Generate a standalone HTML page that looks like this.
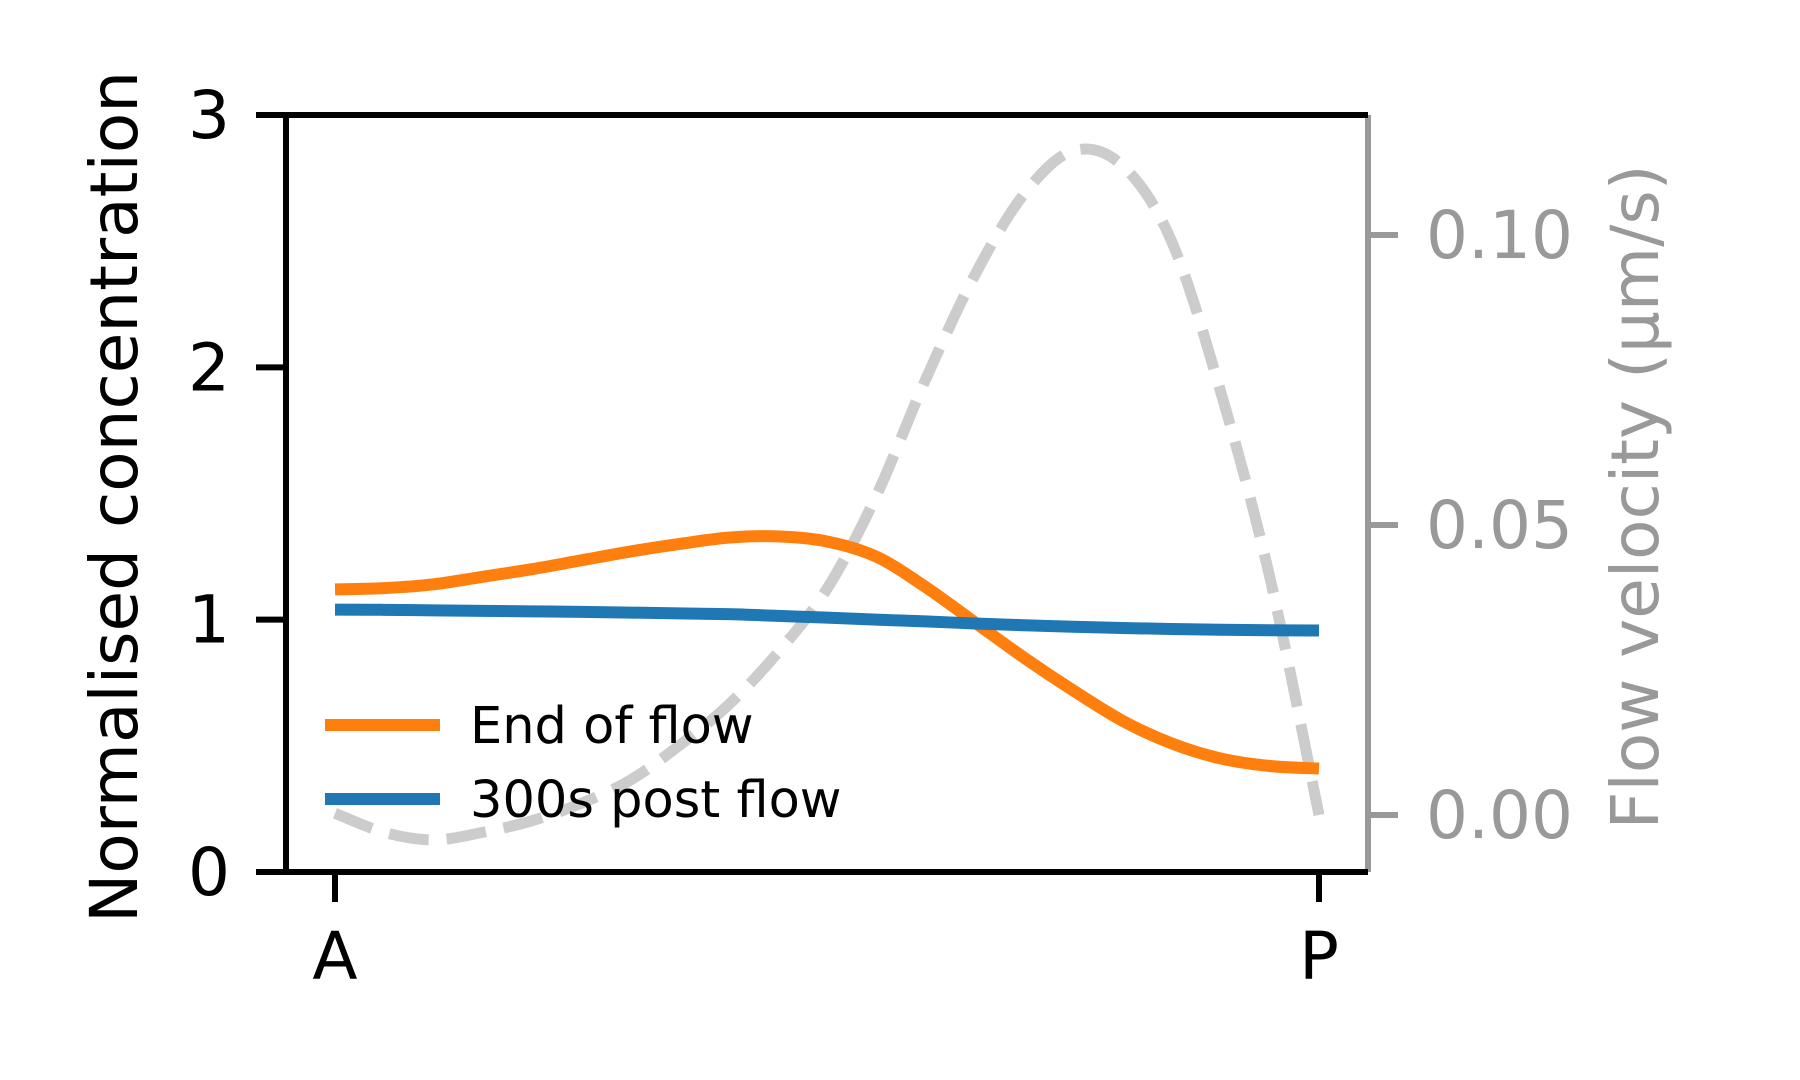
<!DOCTYPE html>
<html><head><meta charset="utf-8"><style>
html,body{margin:0;padding:0;background:#fff;}
svg{display:block;font-family:"DejaVu Sans","Liberation Sans",sans-serif;}
</style></head><body>
<svg id="chart" width="1800" height="1080" viewBox="0 0 1800 1080"></svg>
<script>
const xs = [0,0.05,0.1,0.15,0.2,0.25,0.3,0.35,0.4,0.45,0.5,0.55,0.6,0.65,0.7,0.75,0.8,0.85,0.9,0.95,1];
const endOfFlow = [1.12,1.125,1.14,1.17,1.2,1.235,1.27,1.3,1.325,1.33,1.31,1.25,1.13,0.99,0.85,0.72,0.6,0.51,0.45,0.42,0.41];
const postFlow = [1.04,1.039,1.037,1.035,1.033,1.031,1.028,1.025,1.022,1.015,1.008,1.0,0.993,0.985,0.978,0.972,0.967,0.963,0.96,0.958,0.957];
const velocity = [0.0003,-0.003,-0.0043,-0.003,-0.001,0.002,0.006,0.012,0.019,0.028,0.039,0.055,0.075,0.093,0.107,0.1145,0.112,0.099,0.073,0.041,0.0];
const leftTicks = [0,1,2,3];
const rightTicks = [0,0.05,0.1];
const rightTickLabels = ["0.00","0.05","0.10"];
const xTicks = [0,1];
const xTickLabels = ["A","P"];

const NS="http://www.w3.org/2000/svg";
const svg=document.getElementById('chart');
const L=286,R=1368,T=115,B=872;
const xA=335,xP=1319;
const sx=v=>xA+(xP-xA)*v;
const sy=v=>B+(T-B)*v/3;
const sv=v=>815-(815-235)*v/0.1;
function el(tag,attrs,parent){const e=document.createElementNS(NS,tag);for(const k in attrs)e.setAttribute(k,attrs[k]);(parent||svg).appendChild(e);return e;}
function smooth(pts){let d=`M${pts[0][0]},${pts[0][1]}`;for(let i=0;i<pts.length-1;i++){const p0=pts[Math.max(0,i-1)],p1=pts[i],p2=pts[i+1],p3=pts[Math.min(pts.length-1,i+2)];const c1=[p1[0]+(p2[0]-p0[0])/6,p1[1]+(p2[1]-p0[1])/6];const c2=[p2[0]-(p3[0]-p1[0])/6,p2[1]-(p3[1]-p1[1])/6];d+=` C${c1[0]},${c1[1]} ${c2[0]},${c2[1]} ${p2[0]},${p2[1]}`;}return d;}

let p=el('path',{d:smooth(xs.map((x,i)=>[sx(x),sv(velocity[i])])),fill:'none',stroke:'#cccccc','stroke-width':11,'stroke-dasharray':'40 18'});

p=el('path',{d:smooth(xs.map((x,i)=>[sx(x),sy(endOfFlow[i])])),fill:'none',stroke:'#ff7f0e','stroke-width':12});

p=el('path',{d:smooth(xs.map((x,i)=>[sx(x),sy(postFlow[i])])),fill:'none',stroke:'#1f77b4','stroke-width':12});


let a=el('line',{x1:R,y1:T,x2:R,y2:B,stroke:'#999','stroke-width':6});
a=el('path',{d:`M${L},${T} H${R} M${L},${T} V${B} H${R}`,fill:'none',stroke:'#000','stroke-width':6});

leftTicks.forEach(v=>{const y=sy(v);
 let t=el('line',{x1:L-30,y1:y,x2:L,y2:y,stroke:'#000','stroke-width':6});
 let tx=el('text',{x:L-56,y:y+23,'text-anchor':'end','font-size':66,fill:'#000'});tx.textContent=v;});
rightTicks.forEach((v,i)=>{const y=sv(v);
 let t=el('line',{x1:R,y1:y,x2:R+30,y2:y,stroke:'#999','stroke-width':6});
 let tx=el('text',{x:R+58,y:y+23,'font-size':66,fill:'#999'});tx.textContent=rightTickLabels[i];});
xTicks.forEach((v,i)=>{const x=sx(v);
 let t=el('line',{x1:x,y1:B,x2:x,y2:B+30,stroke:'#000','stroke-width':6});
 let tx=el('text',{x:x,y:979,'text-anchor':'middle','font-size':66,fill:'#000'});tx.textContent=xTickLabels[i];});

let yl=el('text',{x:0,y:0,transform:'translate(137,497) rotate(-90)','text-anchor':'middle','font-size':66,fill:'#000'});yl.textContent='Normalised concentration';
let rl=el('text',{x:0,y:0,transform:'translate(1658,497) rotate(-90)','text-anchor':'middle','font-size':66,fill:'#999'});rl.textContent='Flow velocity (μm/s)';

const lg=el('g',{});
[['End of flow','#ff7f0e',725],['300s post flow','#1f77b4',799]].forEach(([n,c,y])=>{
 let l=el('line',{x1:325,y1:y,x2:440,y2:y,stroke:c,'stroke-width':12},lg);
 let t=el('text',{x:470,y:y+18,'font-size':51,fill:'#000'},lg);t.textContent=n;});
</script>
</body></html>
